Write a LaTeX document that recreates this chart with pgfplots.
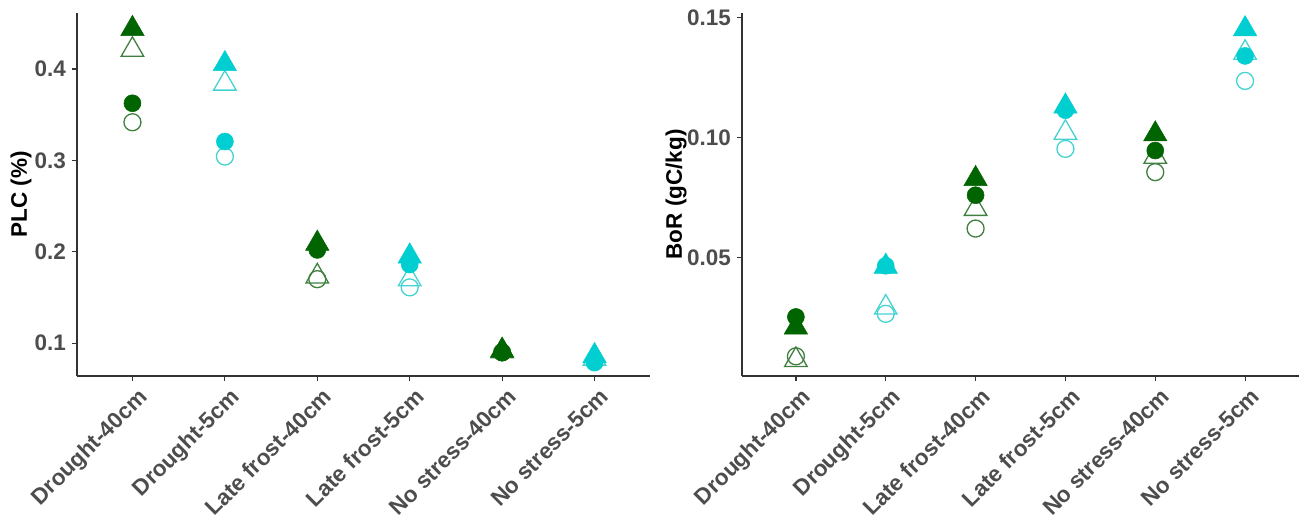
\documentclass[border=0pt]{standalone}
\usepackage{fontspec}
\setmainfont{Liberation Sans}
\usepackage{pgfplots}
\pgfplotsset{compat=1.18}
\definecolor{dg}{HTML}{006400}
\definecolor{cy}{HTML}{00CED1}
\definecolor{dgo}{HTML}{3F7F3F}
\definecolor{cyo}{HTML}{45D2D2}
\definecolor{tickgray}{HTML}{4D4D4D}
\definecolor{axgray}{HTML}{333333}
\pgfplotsset{
  panel/.style={
    scale only axis, height=363.3pt,
    axis x line*=bottom, axis y line*=left,
    axis line style={axgray, line width=1.2pt},
    xmin=0.4, xmax=6.6,
    xtick={1,2,3,4,5,6},
    xticklabels={Drought-40cm,Drought-5cm,Late frost-40cm,Late frost-5cm,No stress-40cm,No stress-5cm},
    tick align=outside, major tick length=5pt,
    tick style={axgray, line width=1.2pt},
    ticklabel style={font=\fontsize{22.5pt}{26pt}\selectfont\bfseries, text=tickgray},
    xticklabel style={rotate=45, anchor=north east, inner sep=1pt, yshift=-6pt},
    yticklabel style={anchor=east, inner sep=1pt, xshift=-5pt},
    /pgf/number format/assume math mode=true,
    ylabel style={font=\fontsize{22.5pt}{26pt}\selectfont\bfseries, anchor=center},
    clip=false,
  },
  ftri/.style={only marks, mark=triangle*, mark size=13.5pt, mark options={fill=#1, draw=#1, line width=0.5pt}},
  otri/.style={only marks, mark=triangle, mark size=13pt, mark options={draw=#1, line width=1.3pt}},
  fcirc/.style={only marks, mark=*, mark size=8.5pt, mark options={fill=#1, draw=#1, line width=0.5pt}},
  ocirc/.style={only marks, mark=o, mark size=8.5pt, mark options={draw=#1, line width=1.3pt}},
}
\begin{document}
\begin{tikzpicture}
\path[use as bounding box] (0pt,0pt) rectangle (1299pt,-517pt);
% ---------------- PLC panel ----------------
\begin{axis}[panel, at={(77pt,-376pt)}, anchor=south west, width=573pt,
  ymin=0.064, ymax=0.4616,
  ytick={0.1,0.2,0.3,0.4}, yticklabels={0.1,0.2,0.3,0.4},
  ylabel={PLC (\%)},
  ylabel style={at={(axis description cs:-0.0977,0.5)}}]
% open markers first
\addplot[otri=dgo] coordinates {(1,0.421) (3,0.173) (5,0.091)};
\addplot[otri=cyo] coordinates {(2,0.384) (4,0.170) (6,0.083)};
\addplot[ocirc=dgo] coordinates {(1,0.3417) (3,0.170) (5,0.090)};
\addplot[ocirc=cyo] coordinates {(2,0.3042) (4,0.161) (6,0.079)};
% filled markers
\addplot[fcirc=dg] coordinates {(1,0.3625) (3,0.202) (5,0.0895)};
\addplot[fcirc=cy] coordinates {(2,0.3206) (4,0.186) (6,0.079)};
\addplot[ftri=dg] coordinates {(1,0.444) (3,0.209) (5,0.092)};
\addplot[ftri=cy] coordinates {(2,0.4055) (4,0.195) (6,0.086)};
\end{axis}
% ---------------- BoR panel ----------------
\begin{axis}[panel, at={(742pt,-376pt)}, anchor=south west, width=557pt,
  ymin=0.0006, ymax=0.1519,
  ytick={0.05,0.10,0.15}, yticklabels={0.05,0.10,0.15},
  ylabel={BoR (gC/kg)},
  ylabel style={at={(axis description cs:-0.1185,0.5)}}]
\addplot[otri=dgo] coordinates {(1,0.0073) (3,0.0702) (5,0.0919)};
\addplot[otri=cyo] coordinates {(2,0.0291) (4,0.1019) (6,0.1352)};
\addplot[ocirc=dgo] coordinates {(1,0.0088) (3,0.0620) (5,0.0855)};
\addplot[ocirc=cyo] coordinates {(2,0.0265) (4,0.0952) (6,0.1235)};
\addplot[fcirc=dg] coordinates {(1,0.0252) (3,0.0759) (5,0.0945)};
\addplot[fcirc=cy] coordinates {(2,0.0465) (4,0.1113) (6,0.1339)};
\addplot[ftri=dg] coordinates {(1,0.0209) (3,0.0827) (5,0.1013)};
\addplot[ftri=cy] coordinates {(2,0.0462) (4,0.1129) (6,0.1451)};
\end{axis}
\end{tikzpicture}
\end{document}
